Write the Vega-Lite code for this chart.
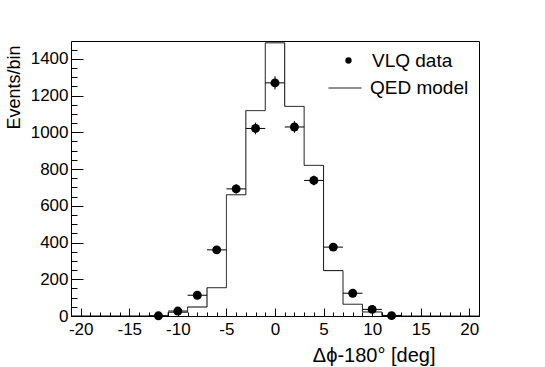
{
  "$schema": "https://vega.github.io/schema/vega-lite/v6.json",
  "width": 408,
  "height": 275,
  "autosize": {"type": "none"},
  "padding": {"left": 71, "top": 41, "right": 66, "bottom": 51},
  "config": {
    "font": "Liberation Sans",
    "view": {"stroke": "black", "strokeWidth": 1},
    "axis": {"domain": false, "grid": false, "tickColor": "black", "labelColor": "black", "titleColor": "black", "labelFont": "Liberation Sans", "titleFont": "Liberation Sans", "titleFontWeight": "normal", "labelFontSize": 17, "titleFontSize": 18, "labelOverlap": false, "labelFlush": false},
    "legend": {"labelFontSize": 19, "labelFont": "Liberation Sans", "labelColor": "black", "padding": 0, "title": null}
  },
  "datasets": {
    "hist": [
      {"lo": -21, "n": 0}, {"lo": -19, "n": 0}, {"lo": -17, "n": 0}, {"lo": -15, "n": 0},
      {"lo": -13, "n": 0}, {"lo": -11, "n": 20}, {"lo": -9, "n": 49}, {"lo": -7, "n": 154},
      {"lo": -5, "n": 660}, {"lo": -3, "n": 1118}, {"lo": -1, "n": 1487}, {"lo": 1, "n": 1141},
      {"lo": 3, "n": 820}, {"lo": 5, "n": 247}, {"lo": 7, "n": 64}, {"lo": 9, "n": 22},
      {"lo": 11, "n": 3}, {"lo": 13, "n": 0}, {"lo": 15, "n": 0}, {"lo": 17, "n": 0},
      {"lo": 19, "n": 0}, {"lo": 21, "n": 0}
    ],
    "pts": [
      {"x": -12, "lo": -13, "hi": -11, "n": 1, "elo": 0, "ehi": 2},
      {"x": -10, "lo": -11, "hi": -9, "n": 27, "elo": 22, "ehi": 32},
      {"x": -8, "lo": -9, "hi": -7, "n": 113, "elo": 102, "ehi": 124},
      {"x": -6, "lo": -7, "hi": -5, "n": 360, "elo": 341, "ehi": 379},
      {"x": -4, "lo": -5, "hi": -3, "n": 692, "elo": 666, "ehi": 718},
      {"x": -2, "lo": -3, "hi": -1, "n": 1021, "elo": 989, "ehi": 1053},
      {"x": 0, "lo": -1, "hi": 1, "n": 1269, "elo": 1233, "ehi": 1305},
      {"x": 2, "lo": 1, "hi": 3, "n": 1029, "elo": 997, "ehi": 1061},
      {"x": 4, "lo": 3, "hi": 5, "n": 738, "elo": 711, "ehi": 765},
      {"x": 6, "lo": 5, "hi": 7, "n": 375, "elo": 356, "ehi": 394},
      {"x": 8, "lo": 7, "hi": 9, "n": 124, "elo": 113, "ehi": 135},
      {"x": 10, "lo": 9, "hi": 11, "n": 36, "elo": 30, "ehi": 42},
      {"x": 12, "lo": 11, "hi": 13, "n": 2, "elo": 1, "ehi": 3}
    ]
  },
  "resolve": {"axis": {"x": "independent", "y": "independent"}},
  "layer": [
    {
      "data": {"name": "hist"},
      "mark": {"type": "line", "interpolate": "step-after", "color": "black", "strokeWidth": 1, "clip": true},
      "encoding": {
        "x": {"field": "lo", "type": "quantitative", "scale": {"domain": [-21, 21], "nice": false, "zero": false},
              "axis": {"orient": "bottom", "values": [-21,-20,-19,-18,-17,-16,-15,-14,-13,-12,-11,-10,-9,-8,-7,-6,-5,-4,-3,-2,-1,0,1,2,3,4,5,6,7,8,9,10,11,12,13,14,15,16,17,18,19,20,21],
                       "labels": false, "tickSize": -4, "title": null}},
        "y": {"field": "n", "type": "quantitative", "scale": {"domain": [0, 1497], "nice": false},
              "axis": {"orient": "left", "values": [0,50,100,150,200,250,300,350,400,450,500,550,600,650,700,750,800,850,900,950,1000,1050,1100,1150,1200,1250,1300,1350,1400,1450],
                       "labels": false, "tickSize": -6, "title": null}},
        "strokeDash": {"datum": "QED model", "type": "nominal",
                  "scale": {"range": [[1, 0]]},
                  "legend": {
                    "orient": "none", "legendX": 257, "legendY": 30,
                    "symbolType": "stroke", "symbolSize": 1089, "symbolStrokeColor": "black", "symbolStrokeWidth": 1,
                    "labelOffset": 8
                  }}
      }
    },
    {
      "data": {"name": "pts"},
      "mark": {"type": "rule", "color": "black", "strokeWidth": 1},
      "encoding": {
        "x": {"field": "lo", "type": "quantitative", "axis": null},
        "x2": {"field": "hi"},
        "y": {"field": "n", "type": "quantitative", "axis": null}
      }
    },
    {
      "data": {"name": "pts"},
      "mark": {"type": "rule", "color": "black", "strokeWidth": 1},
      "encoding": {
        "x": {"field": "x", "type": "quantitative", "axis": null},
        "y": {"field": "elo", "type": "quantitative", "axis": null},
        "y2": {"field": "ehi"}
      }
    },
    {
      "data": {"name": "pts"},
      "mark": {"type": "point", "filled": true, "size": 80, "opacity": 1},
      "encoding": {
        "x": {"field": "x", "type": "quantitative",
              "axis": {"orient": "bottom", "values": [-20,-15,-10,-5,0,5,10,15,20], "tickSize": -8, "labelPadding": 13,
                       "labelExpr": "'' + datum.value",
                       "title": "Δϕ-180° [deg]", "titleFontSize": 20, "titleAnchor": "end", "titleAlign": "right", "titleX": 364, "titleY": 39, "titleBaseline": "middle"}},
        "y": {"field": "n", "type": "quantitative",
              "axis": {"orient": "left", "values": [0,200,400,600,800,1000,1200,1400], "tickSize": -12, "labelPadding": 15,
                       "labelExpr": "'' + datum.value",
                       "title": "Events/bin", "titleAngle": -90, "titleAlign": "right", "titleBaseline": "middle", "titleX": -57, "titleY": 4}},
        "color": {"datum": "VLQ data", "type": "nominal",
                  "scale": {"range": ["black"]},
                  "legend": {
                    "orient": "none", "legendX": 268, "legendY": 10,
                    "symbolType": "circle", "symbolSize": 40, "symbolFillColor": "black", "symbolStrokeWidth": 0,
                    "labelOffset": 14
                  }}
      }
    }
  ]
}
